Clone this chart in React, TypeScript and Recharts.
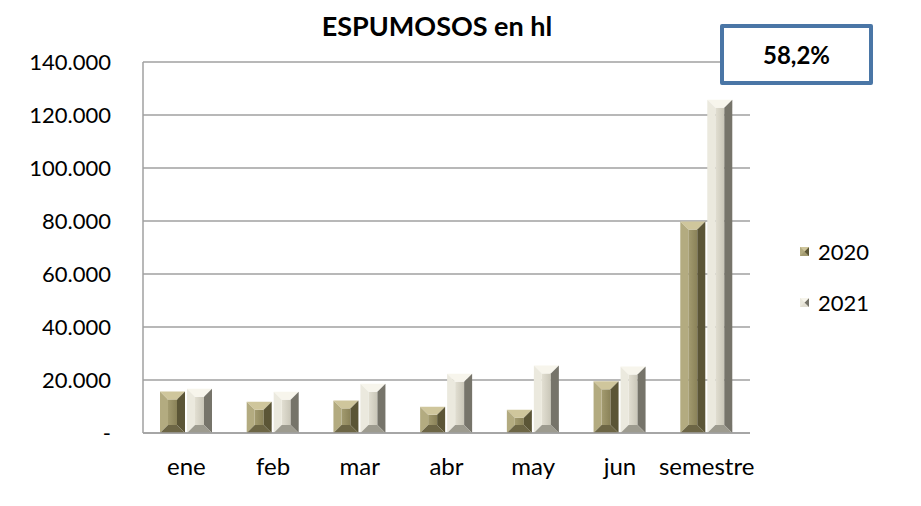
import { Bar, BarChart, CartesianGrid, XAxis, YAxis } from 'recharts';

const months = ['ene', 'feb', 'mar', 'abr', 'may', 'jun', 'semestre'];
const hl2020 = [15700, 11800, 12300, 9900, 8800, 19500, 79800];
const hl2021 = [16700, 15600, 18600, 22400, 25500, 25100, 125800];
const yTicks = [0, 20000, 40000, 60000, 80000, 100000, 120000, 140000];
const growthLabel = '58,2%';

const data = months.map((m, i) => ({ month: m, y2020: hl2020[i], y2021: hl2021[i] }));

const FONT = 'Lato, "Noto Sans", sans-serif';

interface Palette {
  face: string;
  faceDark: string;
  top: string;
  left: string;
  right: string;
  bottom: string;
}

const olive: Palette = {
  face: '#a39b70',
  faceDark: '#8a8258',
  top: '#cfc69c',
  left: '#b3ab80',
  right: '#5b5536',
  bottom: '#6d6645'
};

const pearl: Palette = {
  face: '#e2dfd2',
  faceDark: '#c9c6b8',
  top: '#f7f5ec',
  left: '#ebe9de',
  right: '#76746a',
  bottom: '#9d9b8f'
};

function BevelBar(props: any) {
  const { x, y, width, height, palette, gid } = props;
  if (!height || height <= 0) return null;
  const w = width;
  const h = height;
  const b = Math.min(8, w / 2 - 3, h / 2);
  return (
    <g>
      <defs>
        <linearGradient id={gid} x1="0" x2="1" y1="0" y2="0">
          <stop offset="0%" stopColor={palette.face} />
          <stop offset="100%" stopColor={palette.faceDark} />
        </linearGradient>
      </defs>
      <rect x={x + b} y={y + b} width={w - 2 * b} height={h - 2 * b} fill={`url(#${gid})`} />
      <polygon points={`${x},${y} ${x + w},${y} ${x + w - b},${y + b} ${x + b},${y + b}`} fill={palette.top} />
      <polygon points={`${x},${y} ${x + b},${y + b} ${x + b},${y + h - b} ${x},${y + h}`} fill={palette.left} />
      <polygon points={`${x + w},${y} ${x + w},${y + h} ${x + w - b},${y + h - b} ${x + w - b},${y + b}`} fill={palette.right} />
      <polygon points={`${x},${y + h} ${x + b},${y + h - b} ${x + w - b},${y + h - b} ${x + w},${y + h}`} fill={palette.bottom} />
    </g>
  );
}

function formatTick(v: number) {
  if (v === 0) return '-';
  return v.toLocaleString('de-DE');
}

function LegendMarker({ palette }: { palette: Palette }) {
  return (
    <svg width={9} height={9} style={{ display: 'block' }}>
      <rect x={0} y={0} width={9} height={9} fill={palette.face} />
      <polygon points="0,0 4.5,4.5 0,9" fill={palette.left} />
      <polygon points="9,0 4.5,4.5 9,9" fill={palette.right} />
      <polygon points="0,0 9,0 4.5,4.5" fill={palette.top} />
    </svg>
  );
}

const legendItems = [
  { label: '2020', palette: olive },
  { label: '2021', palette: pearl }
];

export default function App() {
  return (
    <div style={{ position: 'relative', width: 900, height: 490, fontFamily: FONT }}>
      <div
        style={{
          position: 'absolute',
          left: 0,
          width: 858,
          top: 1,
          textAlign: 'center',
          fontWeight: 700,
          fontSize: 27,
          color: '#000'
        }}
      >
        ESPUMOSOS en hl
      </div>
      <BarChart
        width={900}
        height={490}
        data={data}
        margin={{ top: 54, right: 158, bottom: 0, left: 0 }}
        barSize={25}
        barGap={2}
      >
        <CartesianGrid vertical={false} stroke="#a0a0a0" strokeWidth={1.5} />
        <XAxis
          dataKey="month"
          height={65}
          tickLine={false}
          tickSize={0}
          tickMargin={25}
          axisLine={{ stroke: '#a0a0a0', strokeWidth: 1.5 }}
          tick={{ fill: '#000', fontSize: 24, fontFamily: FONT }}
          interval={0}
        />
        <YAxis
          width={135}
          domain={[0, 140000]}
          ticks={yTicks}
          tickFormatter={formatTick}
          tickLine={false}
          tickSize={0}
          tickMargin={32}
          axisLine={{ stroke: '#a0a0a0', strokeWidth: 1.5 }}
          tick={{ fill: '#000', fontSize: 22, fontFamily: FONT }}
          interval={0}
        />
        <Bar
          dataKey="y2020"
          name="2020"
          isAnimationActive={false}
          shape={(p: any) => <BevelBar {...p} palette={olive} gid={`g2020-${p.index}`} />}
        />
        <Bar
          dataKey="y2021"
          name="2021"
          isAnimationActive={false}
          shape={(p: any) => <BevelBar {...p} palette={pearl} gid={`g2021-${p.index}`} />}
        />
      </BarChart>
      <div style={{ position: 'absolute', left: 792, top: 230, fontSize: 22, color: '#000' }}>
        {legendItems.map((it, i) => (
          <div key={it.label} style={{ display: 'flex', alignItems: 'center', height: 26, marginBottom: i === 0 ? 25 : 0 }}>
            <LegendMarker palette={it.palette} />
            <span style={{ marginLeft: 9 }}>{it.label}</span>
          </div>
        ))}
      </div>
      <div
        style={{
          position: 'absolute',
          left: 712,
          top: 16,
          width: 145,
          height: 53,
          border: '4px solid #4a76a6',
          borderRadius: 2,
          background: '#fff',
          display: 'flex',
          alignItems: 'center',
          justifyContent: 'center',
          fontWeight: 700,
          fontSize: 24,
          color: '#000'
        }}
      >
        {growthLabel}
      </div>
    </div>
  );
}
